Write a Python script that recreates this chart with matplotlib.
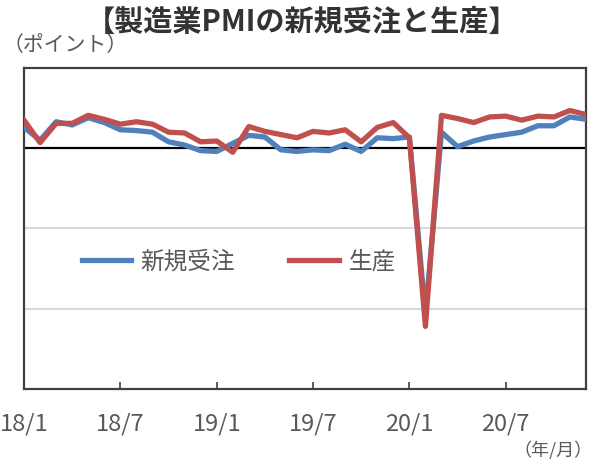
import matplotlib
matplotlib.use('Agg')
import matplotlib.pyplot as plt

plt.rcParams['font.family'] = ['Noto Sans CJK JP', 'DejaVu Sans']

# 月次 2018/1 - 2020/12
months = list(range(36))
tick_pos = [0, 6, 12, 18, 24, 30]
tick_labels = ['18/1', '18/7', '19/1', '19/7', '20/1', '20/7']

new_orders = [52.6, 51.0, 53.3, 52.9, 53.8, 53.2, 52.3, 52.2, 52.0, 50.8, 50.4, 49.7,
              49.6, 50.6, 51.6, 51.4, 49.8, 49.6, 49.8, 49.7, 50.5, 49.6, 51.3, 51.2,
              51.4, 29.3, 52.0, 50.2, 50.9, 51.4, 51.7, 52.0, 52.8, 52.8, 53.9, 53.6]
production = [53.5, 50.7, 53.1, 53.1, 54.1, 53.6, 53.0, 53.3, 53.0, 52.0, 51.9, 50.8,
              50.9, 49.5, 52.7, 52.1, 51.7, 51.3, 52.1, 51.9, 52.3, 50.8, 52.6, 53.2,
              51.3, 27.8, 54.1, 53.7, 53.2, 53.9, 54.0, 53.5, 54.0, 53.9, 54.7, 54.2]

txt = '#595959'
edge = '#404040'

fig = plt.figure(figsize=(5.93, 4.59), dpi=100)
ax = fig.add_axes([0.0405, 0.1525, 0.9477, 0.6994])

for y in [30, 40]:
    ax.axhline(y, color='#D9D9D9', lw=1.5, zorder=1)
ax.axhline(50, color='black', lw=1.6, zorder=2)

ax.plot(months, new_orders, color='#4F81BD', lw=3.8, label='新規受注', zorder=3)
ax.plot(months, production, color='#C0504D', lw=3.8, label='生産', zorder=4)

ax.set_xlim(0, 35)
ax.set_ylim(20, 60)
ax.set_yticks([])
ax.set_xticks(tick_pos)
ax.set_xticklabels(tick_labels, fontsize=17, color=txt)
ax.tick_params(axis='x', direction='in', length=5, width=1.2, color=edge, pad=17)
for s in ax.spines.values():
    s.set_color(edge)
    s.set_linewidth(1.6)

ax.legend(loc='center', bbox_to_anchor=(0.382, 0.396), ncol=2, frameon=False,
          fontsize=17, labelcolor=txt, handlelength=2.1, columnspacing=2.3,
          handletextpad=0.4)

fig.text(0.51, 0.952, '【製造業PMIの新規受注と生産】', ha='center', va='center',
         fontsize=21, fontweight='bold', color='#333333')
fig.text(0.004, 0.902, '（ポイント）', ha='left', va='center', fontsize=15, color=txt)
fig.text(1.0, 0.02, '（年/月）', ha='right', va='center', fontsize=13, color=txt)

fig.savefig('out.png', dpi=100)
